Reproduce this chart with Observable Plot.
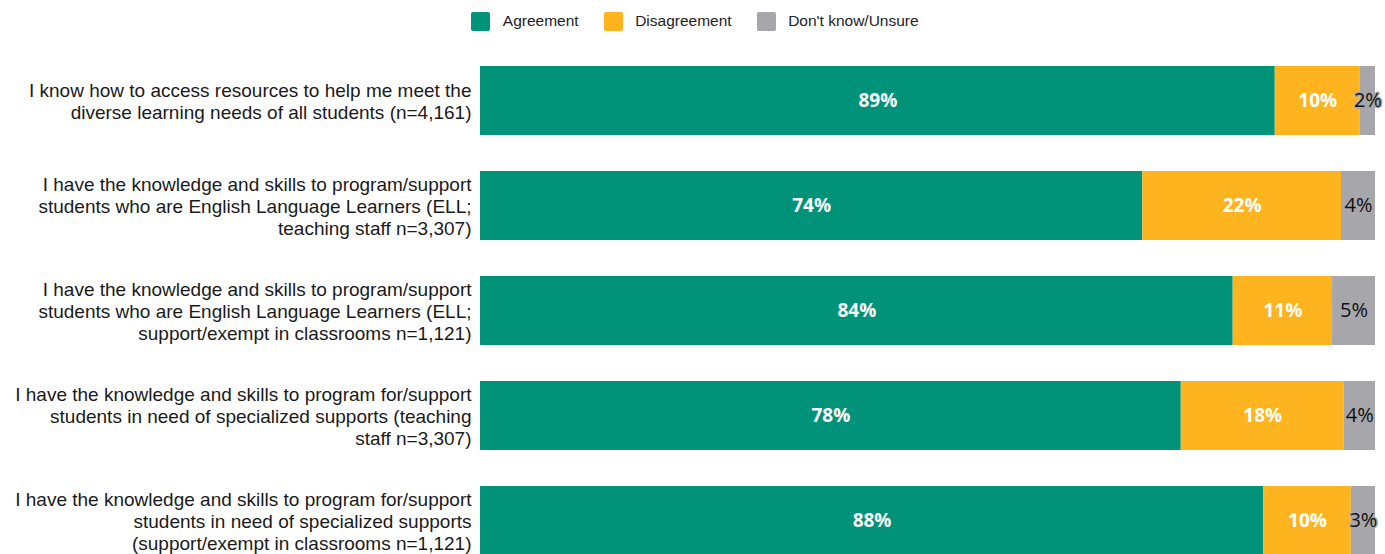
<!DOCTYPE html>
<html>
<head>
<meta charset="utf-8">
<script src="https://cdn.jsdelivr.net/npm/d3@7"></script>
<script src="https://cdn.jsdelivr.net/npm/@observablehq/plot@0.6"></script>
<style>
  html, body { margin: 0; padding: 0; background: #fff; overflow: hidden; }
  #legend { height: 42px; display: flex; justify-content: center; align-items: center; font-family: "Liberation Sans", Arial, sans-serif; font-size: 15.5px; color: #222; padding-left: 5px; box-sizing: border-box; }
  .item { display: flex; align-items: center; margin: 0 12.5px; }
  .sw { width: 19px; height: 19px; border-radius: 2px; margin-right: 12.5px; }
</style>
</head>
<body>
<div id="legend"></div>
<div id="chart"></div>
<script>
const categories = [
  "I know how to access resources to help me meet the\ndiverse learning needs of all students (n=4,161)",
  "I have the knowledge and skills to program/support\nstudents who are English Language Learners (ELL;\nteaching staff n=3,307)",
  "I have the knowledge and skills to program/support\nstudents who are English Language Learners (ELL;\nsupport/exempt in classrooms n=1,121)",
  "I have the knowledge and skills to program for/support\nstudents in need of specialized supports (teaching\nstaff n=3,307)",
  "I have the knowledge and skills to program for/support\nstudents in need of specialized supports\n(support/exempt in classrooms n=1,121)"
];
const responses = ["Agreement", "Disagreement", "Don't know/Unsure"];
const agreement    = [88.8, 74.0, 84.1, 78.3, 87.5];
const disagreement = [9.5, 22.2, 11.1, 18.2, 9.8];
const unsure       = [1.7, 3.8, 4.8, 3.5, 2.7];
const colors = ["#009379", "#FDB41F", "#A7A6AA"];

const series = [agreement, disagreement, unsure];
const data = [];
categories.forEach((c, i) => {
  responses.forEach((r, j) => data.push({category: c, response: r, value: series[j][i]}));
});

// legend
const legend = document.getElementById("legend");
responses.forEach((r, j) => {
  const it = document.createElement("div");
  it.className = "item";
  it.innerHTML = `<span class="sw" style="background:${colors[j]}"></span><span>${r}</span>`;
  legend.appendChild(it);
});

const chart = Plot.plot({
  width: 1385,
  height: 545,
  marginLeft: 480,
  marginRight: 10,
  marginTop: 0,
  marginBottom: 0,
  style: {fontFamily: "Liberation Sans, Arial, sans-serif", fontSize: "19px", color: "#222", background: "#fff"},
  x: {domain: [0, 100], axis: null},
  y: {domain: categories, range: [4.75, 532.25], paddingInner: 0.341, paddingOuter: 0.1705, label: null},
  color: {domain: responses, range: colors},
  marks: [
    Plot.barX(data, {x: "value", y: "category", fill: "response", order: responses}),
    Plot.axisY({tickSize: 0, tickPadding: 9, fontSize: 19, lineHeight: 1.16, label: null, fill: "#1a1a1a"}),
    Plot.text(data, Plot.stackX({
      x: "value", y: "category", z: "response", order: responses,
      text: d => d.response === "Don't know/Unsure" ? null : Math.round(d.value) + "%",
      fill: "white", fontWeight: "bold", fontSize: 19, fontFamily: "Open Sans, sans-serif"
    })),
    Plot.text(data, Plot.stackX({
      x: "value", y: "category", z: "response", order: responses,
      text: d => d.response === "Don't know/Unsure" ? Math.round(d.value) + "%" : null,
      fill: "#111", stroke: "#A7A6AA", strokeWidth: 3, fontSize: 20, fontFamily: "Open Sans, sans-serif"
    }))
  ]
});
document.getElementById("chart").appendChild(chart);
</script>
</body>
</html>
